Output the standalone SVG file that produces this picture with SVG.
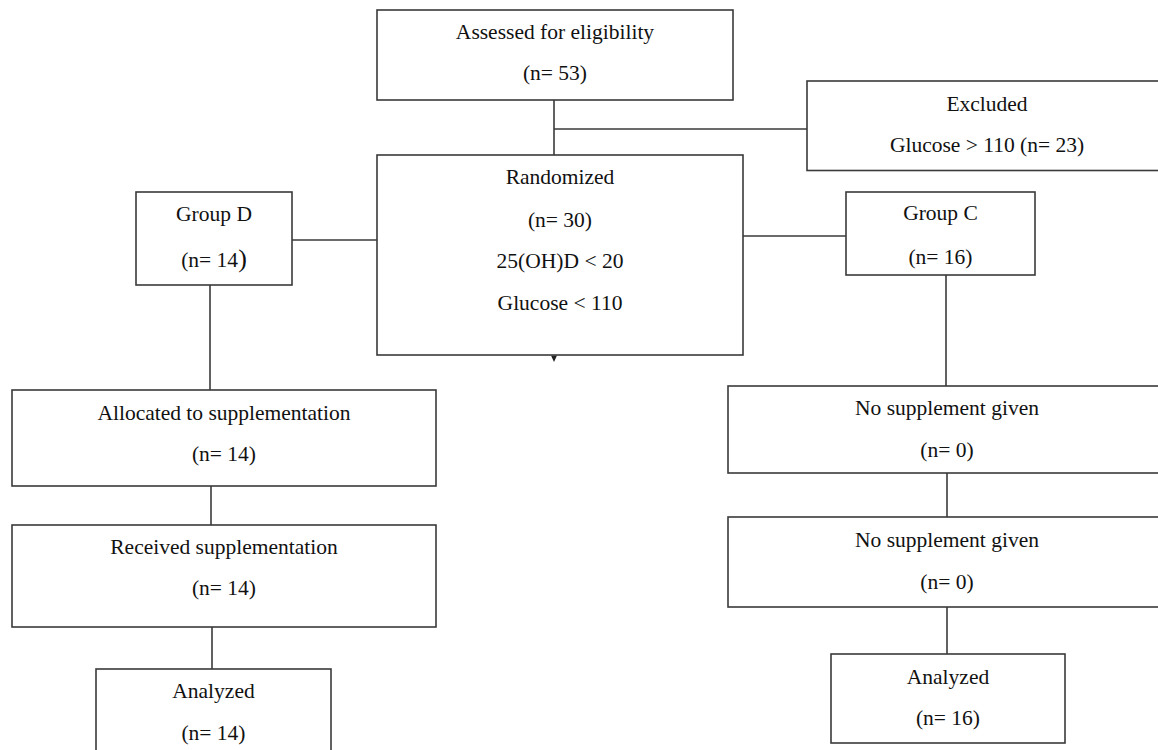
<svg xmlns="http://www.w3.org/2000/svg" width="1158" height="750" viewBox="0 0 1158 750">
<style>
.box{fill:#ffffff;stroke:#3a3a3a;stroke-width:1.6}
.ln{stroke:#3a3a3a;stroke-width:1.6;fill:none}
text{font-family:"Liberation Serif","Times New Roman",serif;font-size:21.5px;fill:#111111;text-anchor:middle}
</style>
<rect width="1158" height="750" fill="#ffffff"/>
<g id="connectors">
<line class="ln" x1="554" y1="100" x2="554" y2="155"/>
<line class="ln" x1="554" y1="129" x2="807" y2="129"/>
<line class="ln" x1="292" y1="240" x2="377" y2="240"/>
<line class="ln" x1="743" y1="236" x2="846" y2="236"/>
<line class="ln" x1="210" y1="285" x2="210" y2="390"/>
<line class="ln" x1="211" y1="486" x2="211" y2="525"/>
<line class="ln" x1="212" y1="627" x2="212" y2="669"/>
<line class="ln" x1="946" y1="275" x2="946" y2="386"/>
<line class="ln" x1="947" y1="473" x2="947" y2="517"/>
<line class="ln" x1="947" y1="607" x2="947" y2="654"/>
<polygon points="551,355.5 557,355.5 554,362" fill="#222222"/>
</g>
<g id="assessed">
<rect class="box" x="377" y="10" width="356" height="90"/>
<text x="555" y="39">Assessed for eligibility</text>
<text x="555" y="79.5">(n= 53)</text>
</g>
<g id="excluded">
<rect class="box" x="807" y="81" width="362" height="89.5"/>
<text x="987" y="110.5">Excluded</text>
<text x="987" y="151.5">Glucose &gt; 110 (n= 23)</text>
</g>
<g id="randomized">
<rect class="box" x="377" y="155" width="366" height="200"/>
<text x="560" y="184">Randomized</text>
<text x="560" y="226.5">(n= 30)</text>
<text x="560" y="268">25(OH)D &lt; 20</text>
<text x="560" y="310">Glucose &lt; 110</text>
</g>
<g id="groupD">
<rect class="box" x="136" y="192" width="156" height="93"/>
<text x="214" y="221">Group D</text>
<text x="214" y="266.5">(n= 14<tspan font-size="26">)</tspan></text>
</g>
<g id="groupC">
<rect class="box" x="846" y="192" width="189" height="83"/>
<text x="940.5" y="220">Group C</text>
<text x="940.5" y="264">(n= 16)</text>
</g>
<g id="allocated">
<rect class="box" x="12" y="390" width="424" height="96"/>
<text x="224" y="419.5">Allocated to supplementation</text>
<text x="224" y="461">(n= 14)</text>
</g>
<g id="received">
<rect class="box" x="12" y="525" width="424" height="102"/>
<text x="224" y="553.5">Received supplementation</text>
<text x="224" y="595">(n= 14)</text>
</g>
<g id="analyzedD">
<rect class="box" x="96" y="669" width="235" height="95"/>
<text x="213.5" y="698">Analyzed</text>
<text x="213.5" y="740">(n= 14)</text>
</g>
<g id="noSupp1">
<rect class="box" x="728" y="386" width="442" height="87"/>
<text x="947" y="415">No supplement given</text>
<text x="947" y="457">(n= 0)</text>
</g>
<g id="noSupp2">
<rect class="box" x="728" y="517" width="442" height="90"/>
<text x="947" y="547">No supplement given</text>
<text x="947" y="589">(n= 0)</text>
</g>
<g id="analyzedC">
<rect class="box" x="831" y="654" width="234" height="89"/>
<text x="948" y="683.5">Analyzed</text>
<text x="948" y="725">(n= 16)</text>
</g>
</svg>
